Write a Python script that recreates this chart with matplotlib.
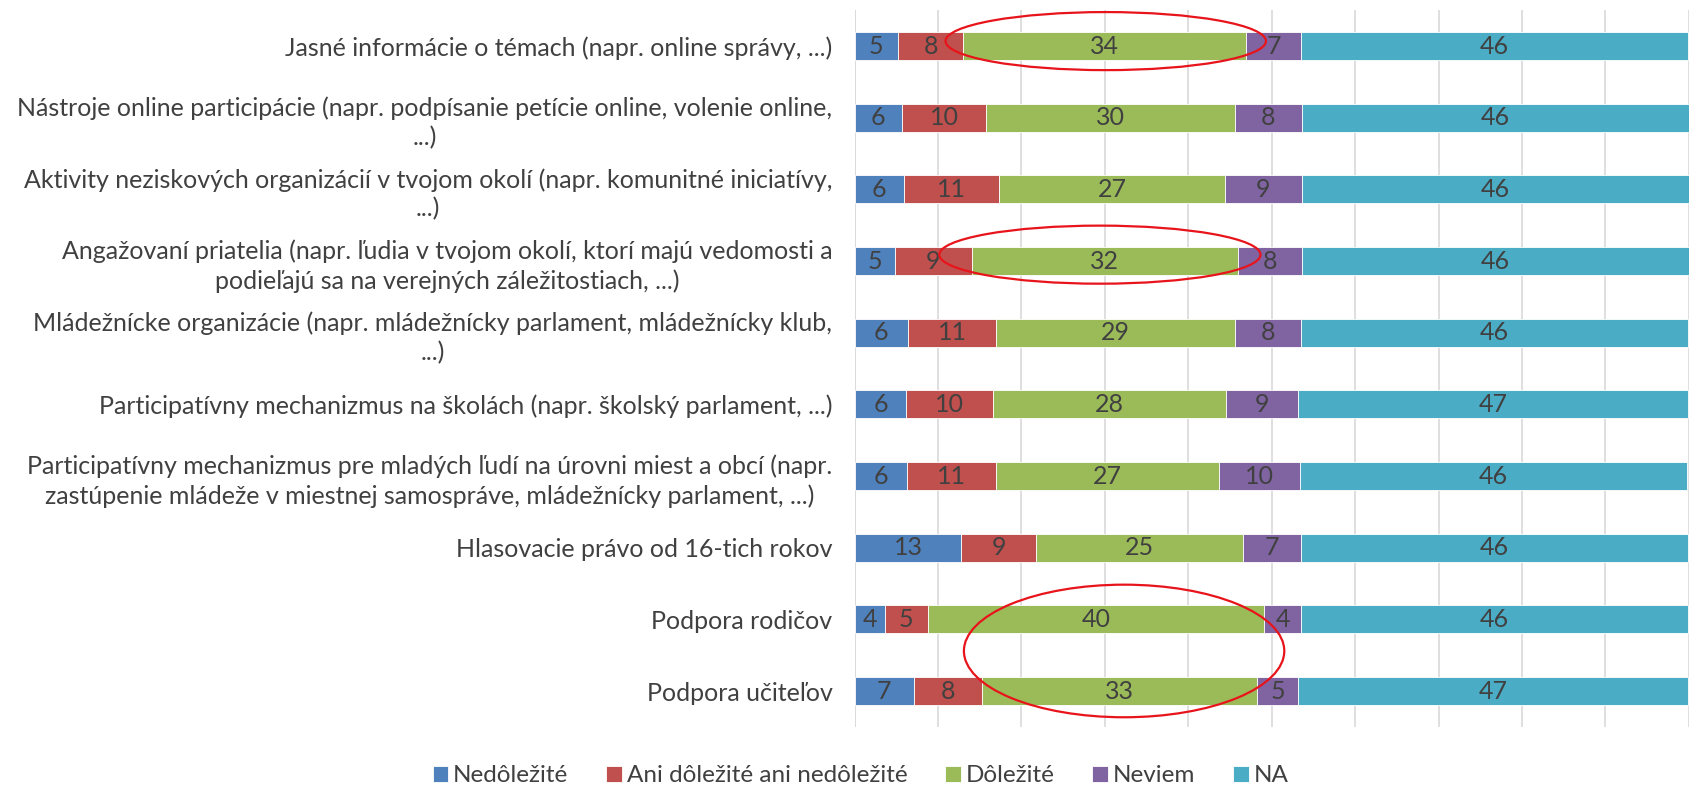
import matplotlib
matplotlib.use("Agg")
import matplotlib.pyplot as plt
from matplotlib.patches import Ellipse

# categories, top to bottom
categories = [
    "Jasné informácie o témach (napr. online správy, ...)",
    "Nástroje online participácie (napr. podpísanie petície online, volenie online,\n...)",
    "Aktivity neziskových organizácií v tvojom okolí (napr. komunitné iniciatívy,\n...)",
    "Angažovaní priatelia (napr. ľudia v tvojom okolí, ktorí majú vedomosti a\npodieľajú sa na verejných záležitostiach, ...)",
    "Mládežnícke organizácie (napr. mládežnícky parlament, mládežnícky klub,\n...)",
    "Participatívny mechanizmus na školách (napr. školský parlament, ...)",
    "Participatívny mechanizmus pre mladých ľudí na úrovni miest a obcí (napr.\nzastúpenie mládeže v miestnej samospráve, mládežnícky parlament, ...)",
    "Hlasovacie právo od 16-tich rokov",
    "Podpora rodičov",
    "Podpora učiteľov",
]

series_names = ["Nedôležité", "Ani dôležité ani nedôležité", "Dôležité", "Neviem", "NA"]
nedolezite = [5.2, 5.7, 5.9, 4.8, 6.4, 6.2, 6.3, 12.8, 3.6, 7.1]
ani_ani = [7.8, 10.1, 11.4, 9.3, 10.6, 10.4, 10.7, 9.0, 5.2, 8.2]
dolezite = [33.9, 29.8, 27.1, 31.8, 28.6, 27.9, 26.7, 24.7, 40.3, 32.9]
neviem = [6.6, 8.0, 9.2, 7.7, 7.9, 8.6, 9.7, 7.0, 4.4, 5.0]
na_vals = [46.4, 46.4, 46.4, 46.4, 46.4, 46.8, 46.4, 46.4, 46.4, 46.7]

colors = ["#4F81BD", "#C0504D", "#9BBB59", "#8064A2", "#4BACC6"]
text_col = "#404040"

plt.rcParams["font.family"] = ["Lato", "DejaVu Sans"]

fig = plt.figure(figsize=(16.94, 7.91), dpi=100)
ax = fig.add_axes([0.5045, 0.081, 0.4925, 0.906])

ypos = list(range(len(categories)))
left = [0.0] * len(categories)
for name, vals, col in zip(series_names, [nedolezite, ani_ani, dolezite, neviem, na_vals], colors):
    bars = ax.barh(ypos, vals, left=left, height=0.39, color=col, label=name,
                   edgecolor="white", linewidth=0.6, zorder=2)
    ax.bar_label(bars, labels=[f"{v:.0f}" for v in vals], label_type="center",
                 fontsize=18, color=text_col)
    left = [a + b for a, b in zip(left, vals)]

ax.set_xlim(0, 100)
ax.set_ylim(len(categories) - 0.5, -0.5)
ax.set_xticks(range(0, 101, 10))
ax.set_xticklabels([])
ax.grid(axis="x", color="#D9D9D9", linewidth=1.2, zorder=0)
ax.set_axisbelow(True)
ax.tick_params(length=0)
for s in ax.spines.values():
    s.set_visible(False)
ax.axvline(0, color="#D9D9D9", linewidth=1.2, zorder=1)

ax.set_yticks(ypos)
ax.set_yticklabels(categories, fontsize=18, color=text_col,
                   multialignment="center", linespacing=1.3)
ax.tick_params(axis="y", pad=16)

# red highlight ellipses
for cx, cy, w, h in [(30.1, -0.07, 38.4, 0.81), (29.4, 2.91, 38.5, 0.81), (32.3, 8.44, 38.4, 1.85)]:
    ax.add_patch(Ellipse((cx, cy), w, h, fill=False, edgecolor="#E8141B",
                         linewidth=1.6, zorder=5, clip_on=False))

fig.legend(loc="center", bbox_to_anchor=(0.508, 0.019), ncol=5, frameon=False,
           handlelength=0.65, handleheight=0.65, handletextpad=0.2,
           columnspacing=1.55, labelcolor=text_col, prop={"size": 17.5})

fig.savefig("out.png", dpi=100)
